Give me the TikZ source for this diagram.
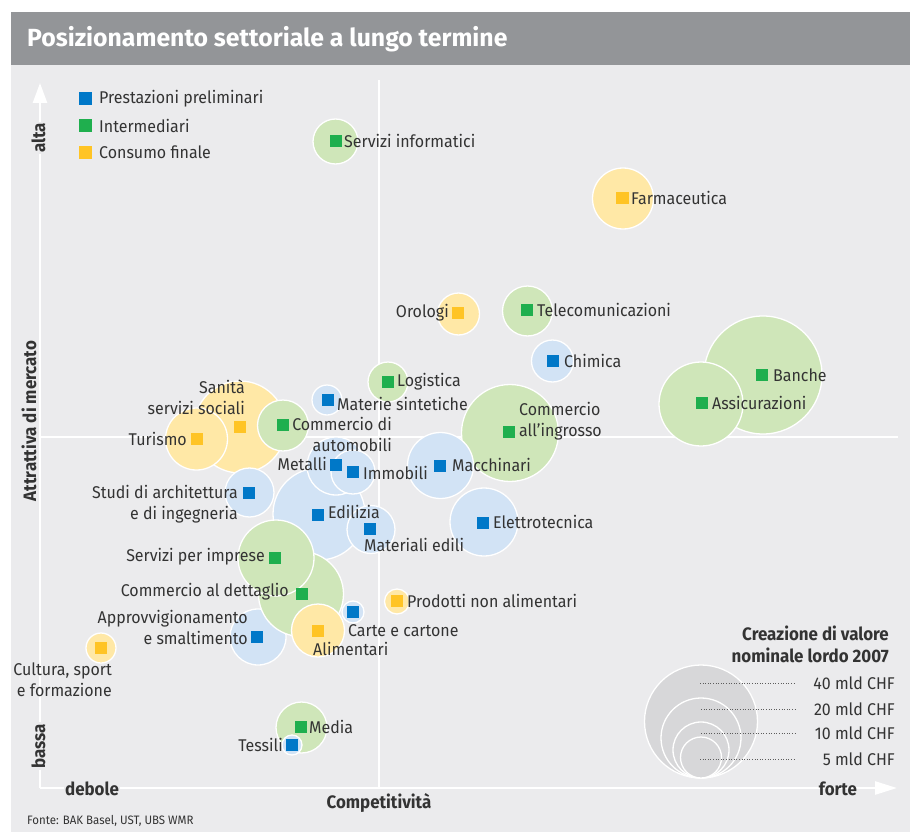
\documentclass[tikz,border=0pt]{standalone}
\usepackage{fontspec}
\setmainfont{Fira Sans}
\newfontfamily\labfam{Fira Sans}[FakeStretch=0.94]
\usetikzlibrary{arrows.meta}
\definecolor{bgc}{HTML}{EBEBED}
\definecolor{titlec}{HTML}{939598}
\definecolor{txt}{HTML}{333333}
\definecolor{sqBlue}{HTML}{0078C8}
\definecolor{sqGreen}{HTML}{1FAF4E}
\definecolor{sqYellow}{HTML}{FFC425}
\definecolor{bubBlue}{HTML}{D2E3F5}
\definecolor{bubGreen}{HTML}{CFE6B9}
\definecolor{bubYellow}{HTML}{FFE8A6}
\definecolor{legGray}{HTML}{D7D7D9}
\newcommand\lblfont{\labfam\fontsize{17}{21}\selectfont}
\newcommand\boldlbl{\labfam\bfseries\fontsize{18}{22}\selectfont}
\begin{document}
\begin{tikzpicture}[x=1pt,y=-1pt,
  bub/.style={circle, draw=white, line width=1.3pt, inner sep=0pt, minimum size=#1},
  bB/.style={bub=#1, fill=bubBlue},
  bG/.style={bub=#1, fill=bubGreen},
  bY/.style={bub=#1, fill=bubYellow},
  sq/.style={rectangle, inner sep=0pt, minimum size=12.5pt},
  sB/.style={sq, fill=sqBlue},
  sG/.style={sq, fill=sqGreen},
  sY/.style={sq, fill=sqYellow},
  lab/.style={font=\lblfont, text=txt, inner sep=0pt},
  axlab/.style={font=\boldlbl, text=txt, inner sep=1.5pt},
  axisline/.style={draw=white, line width=2.6pt},
  leader/.style={draw=txt!80, line width=0.6pt, dotted},
  legc/.style={circle, draw=white, line width=1.3pt, fill=legGray, inner sep=0pt, minimum size=#1}
]
\useasboundingbox (0,0) rectangle (915,832);
% panel and title
\fill[bgc] (11,12) rectangle (910,832);
\fill[titlec] (11,12) rectangle (910,65);
\node[anchor=west, text=white, inner sep=0pt, font=\bfseries\fontsize{24.8}{29}\selectfont] (title) at (27,39) {Posizionamento settoriale a lungo termine};

% axes and mid lines
\coordinate (O) at (40,788);
\coordinate (ytip) at (40,83);
\coordinate (xtip) at (897,788);
\coordinate (vtop) at (379,80);
\coordinate (vbot) at (379,788);
\coordinate (hl) at (40,437);
\coordinate (hr) at (898,437);
\draw[axisline] (vtop) -- (vbot);
\draw[axisline] (hl) -- (hr);
\draw[axisline, -{Triangle[length=20pt,width=14pt,fill=white]}] (O) -- (ytip);
\draw[axisline, -{Triangle[length=22pt,width=13pt,fill=white]}] (O) -- (xtip);

% bubbles (back to front)
\node[bG=118pt] (cBan) at (763,375) {};
\node[bG=84pt]  (cAss) at (701,404) {};
\node[bG=97pt]  (cCin) at (510,433) {};
\node[bB=66pt]  (cMac) at (440.5,465.5) {};
\node[bB=68pt]  (cEle) at (484,522) {};
\node[bY=61pt]  (cFar) at (623,198.5) {};
\node[bG=45pt]  (cSer) at (335.5,141.5) {};
\node[bY=42pt]  (cOro) at (458.5,314) {};
\node[bG=50pt]  (cTel) at (527.5,311) {};
\node[bB=42pt]  (cChi) at (552.5,361) {};
\node[bG=40pt]  (cLog) at (388,382) {};
\node[bB=30pt]  (cMat) at (327,400) {};
\node[bY=92pt]  (cSan) at (240,427) {};
\node[bY=62pt]  (cTur) at (196.5,439) {};
\node[bG=51pt]  (cCau) at (283,425.5) {};
\node[bB=92pt]  (cEdi) at (319,514) {};
\node[bB=58pt]  (cMet) at (336,466) {};
\node[bB=44pt]  (cImm) at (353,472) {};
\node[bB=48pt]  (cMed) at (371,529.5) {};
\node[bB=49pt]  (cStu) at (249.5,492.5) {};
\node[bB=56pt]  (cApp) at (258,637) {};
\node[bG=85pt]  (cCde) at (301,594) {};
\node[bG=76pt]  (cSpi) at (276,558) {};
\node[bY=53pt]  (cAli) at (318,630.5) {};
\node[bB=22pt]  (cCar) at (353,612) {};
\node[bY=25pt]  (cPro) at (397,601.5) {};
\node[bY=30pt]  (cCul) at (101,648) {};
\node[bG=51pt]  (cMedia) at (301.5,727.5) {};
\node[bB=20pt]  (cTes) at (292,745) {};

% squares
\node[sG] (sBan) at (762,375) {};
\node[sG] (sAss) at (702,403) {};
\node[sG] (sCin) at (509,432) {};
\node[sB] (sMac) at (440,466) {};
\node[sB] (sEle) at (483,523) {};
\node[sY] (sFar) at (622.5,198) {};
\node[sG] (sSer) at (336,141) {};
\node[sY] (sOro) at (458,313) {};
\node[sG] (sTel) at (527,310) {};
\node[sB] (sChi) at (553,361) {};
\node[sG] (sLog) at (388,382) {};
\node[sB] (sMat) at (328,400) {};
\node[sY] (sSan) at (240,427) {};
\node[sY] (sTur) at (197,439) {};
\node[sG] (sCau) at (283,425) {};
\node[sB] (sEdi) at (318,515) {};
\node[sB] (sMet) at (336,465) {};
\node[sB] (sImm) at (353,472) {};
\node[sB] (sMed) at (370,529) {};
\node[sB] (sStu) at (249,493) {};
\node[sB] (sApp) at (257,637) {};
\node[sG] (sCde) at (302,594) {};
\node[sG] (sSpi) at (275,558) {};
\node[sY] (sAli) at (318,631) {};
\node[sB] (sCar) at (353,612) {};
\node[sY] (sPro) at (397,601) {};
\node[sY] (sCul) at (101,648) {};
\node[sG] (sMedia) at (301,727) {};
\node[sB] (sTes) at (292,745) {};

% labels
\node[lab, anchor=west] (lBan) at (773,375) {Banche};
\node[lab, anchor=west] (lAss) at (712,403) {Assicurazioni};
\node[lab, anchor=west, align=left] (lCin) at (519,421) {Commercio\\all’ingrosso};
\node[lab, anchor=west] (lMac) at (452,465) {Macchinari};
\node[lab, anchor=west] (lEle) at (493,522) {Elettrotecnica};
\node[lab, anchor=west] (lFar) at (631,198) {Farmaceutica};
\node[lab, anchor=west] (lSer) at (344,141) {Servizi informatici};
\node[lab, anchor=east] (lOro) at (449,313) {Orologi};
\node[lab, anchor=west] (lTel) at (537,310) {Telecomunicazioni};
\node[lab, anchor=west] (lChi) at (564,361) {Chimica};
\node[lab, anchor=west] (lLog) at (397,382) {Logistica};
\node[lab, anchor=west] (lMat) at (337,404) {Materie sintetiche};
\node[lab, anchor=east, align=right] (lSan) at (245,397) {Sanità\\servizi sociali};
\node[lab, anchor=east] (lTur) at (187,439) {Turismo};
\node[lab, anchor=east, align=right] (lCau) at (392,434) {Commercio di\\automobili};
\node[lab, anchor=west] (lEdi) at (328,512) {Edilizia};
\node[lab, anchor=east] (lMet) at (327,464) {Metalli};
\node[lab, anchor=west] (lImm) at (363,473) {Immobili};
\node[lab, anchor=west] (lMed) at (364,545) {Materiali edili};
\node[lab, anchor=east, align=right] (lStu) at (238,504) {Studi di architettura\\e di ingegneria};
\node[lab, anchor=east, align=right] (lApp) at (248,627.5) {Approvvigionamento\\e smaltimento};
\node[lab, anchor=east] (lCde) at (289,592) {Commercio al dettaglio};
\node[lab, anchor=east] (lSpi) at (265,557) {Servizi per imprese};
\node[lab, anchor=west] (lAli) at (313,649) {Alimentari};
\node[lab, anchor=west] (lCar) at (348,631) {Carte e cartone};
\node[lab, anchor=west] (lPro) at (407,601) {Prodotti non alimentari};
\node[lab, anchor=east, align=right] (lCul) at (112,680) {Cultura, sport\\e formazione};
\node[lab, anchor=west] (lMedia) at (309,727) {Media};
\node[lab, anchor=east] (lTes) at (283,745) {Tessili};

% category legend
\node[sB, minimum size=13pt] (kB) at (85.5,99) {};
\node[sG, minimum size=13pt] (kG) at (85.5,126) {};
\node[sY, minimum size=13pt] (kY) at (85.5,152) {};
\node[lab, anchor=west] (tB) at (99,99) {Prestazioni preliminari};
\node[lab, anchor=west] (tG) at (99,126) {Intermediari};
\node[lab, anchor=west] (tY) at (99,152) {Consumo finale};

% size legend
\node[legc=113pt] (g40) at (701,721.5) {};
\node[legc=80pt]  (g20) at (701,738) {};
\node[legc=56pt]  (g10) at (701,750) {};
\node[legc=41pt]  (g5)  at (701,757.5) {};
\coordinate (d40a) at (700,683); \coordinate (d40b) at (794,683);
\coordinate (d20a) at (701,709); \coordinate (d20b) at (795,709);
\coordinate (d10a) at (701,733); \coordinate (d10b) at (795,733);
\coordinate (d5a)  at (700,759); \coordinate (d5b)  at (794,759);
\draw[leader] (d40a) -- (d40b);
\draw[leader] (d20a) -- (d20b);
\draw[leader] (d10a) -- (d10b);
\draw[leader] (d5a) -- (d5b);
\node[lab, anchor=east] (v40) at (895,683) {40 mld CHF};
\node[lab, anchor=east] (v20) at (895,709) {20 mld CHF};
\node[lab, anchor=east] (v10) at (895,733) {10 mld CHF};
\node[lab, anchor=east] (v5)  at (895,759) {5 mld CHF};
\node[font=\boldlbl, text=txt, inner sep=0pt, anchor=east, align=right] (legt) at (889,644.5) {Creazione di valore\\nominale lordo 2007};

% axis labels
\node[axlab, rotate=90, fill=bgc] (alta) at (38.5,138) {alta};
\node[axlab, rotate=90, fill=bgc] (bassa) at (38.5,746) {bassa};
\node[axlab, rotate=90] (att) at (29,421) {Attrattiva di mercato};
\node[axlab, fill=bgc] (deb) at (92,789) {debole};
\node[axlab] (comp) at (379,803) {Competitività};
\node[axlab] (forte) at (838,789) {forte};
\node[anchor=west, text=txt, inner sep=0pt, font=\labfam\fontsize{12.2}{14}\selectfont] (src) at (27,821) {Fonte: BAK Basel, UST, UBS WMR};
\end{tikzpicture}
\end{document}
